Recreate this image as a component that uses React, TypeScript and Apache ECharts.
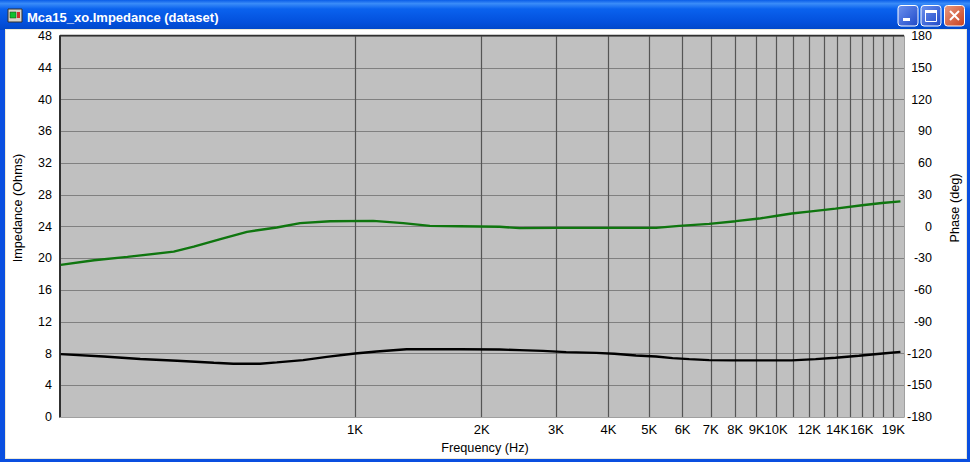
import React, { useEffect, useRef } from "react";
import * as echarts from "echarts";

const TITLE = "Mca15_xo.Impedance (dataset)";
const X_MIN = 199.2;
const X_MAX = 20140;
const X_TICKS = [1000, 2000, 3000, 4000, 5000, 6000, 7000, 8000, 9000, 10000, 11000, 12000, 13000, 14000, 15000, 16000, 17000, 18000, 19000];
const X_LABELLED = [1000, 2000, 3000, 4000, 5000, 6000, 7000, 8000, 9000, 10000, 12000, 14000, 16000, 19000];

const impedanceFreq = [200, 253, 309, 378, 462, 514, 595, 652, 753, 857, 1000, 1126, 1326, 1774, 2206, 2460, 2794, 3174, 3739, 4132, 4650, 5188, 5680, 6220, 6937, 7880, 10900, 12420, 13850, 15730, 16900, 18200, 19750];
const impedanceOhms = [7.92, 7.63, 7.3, 7.08, 6.83, 6.71, 6.71, 6.88, 7.17, 7.58, 8.0, 8.25, 8.54, 8.54, 8.5, 8.42, 8.33, 8.17, 8.08, 7.96, 7.75, 7.62, 7.42, 7.29, 7.17, 7.13, 7.13, 7.29, 7.46, 7.71, 7.87, 8.04, 8.21];

const phaseFreq = [200, 240, 288, 371, 414, 479, 554, 652, 741, 873, 1105, 1302, 1506, 1774, 2206, 2460, 3006, 3985, 5188, 5891, 6937, 8026, 9120, 9980, 10900, 11970, 13850, 16010, 17860, 19750];
// Read against the left scale, as the curve sits on the picture's gridlines.
const phaseOhmsScale = [19.17, 19.75, 20.17, 20.83, 21.46, 22.42, 23.33, 23.87, 24.42, 24.67, 24.71, 24.42, 24.08, 24.04, 23.96, 23.8, 23.83, 23.83, 23.83, 24.08, 24.33, 24.67, 25, 25.33, 25.63, 25.88, 26.25, 26.67, 26.96, 27.17];
const phaseDeg = phaseOhmsScale.map((v) => (v - 24) * 7.5);

const FONT = '"Liberation Sans", Arial, sans-serif';

const pairs = (xs: number[], ys: number[]) => xs.map((x, i) => [x, ys[i]]);

const chrome: any[] = [
  { type: "rect", z: -5, shape: { x: 0, y: 0, width: 970, height: 462 }, style: { fill: "#0a4fe0" } },
  {
    type: "rect", z: -4, shape: { x: 0, y: 0, width: 970, height: 30 },
    style: {
      fill: new echarts.graphic.LinearGradient(0, 0, 0, 1, [
        { offset: 0, color: "#0a5de8" },
        { offset: 0.12, color: "#3a8cf8" },
        { offset: 0.3, color: "#0a62ee" },
        { offset: 0.75, color: "#0350dc" },
        { offset: 1, color: "#0047c8" },
      ]),
    },
  },
  { type: "rect", z: -3, shape: { x: 5, y: 29, width: 962, height: 430 }, style: { fill: "#ece9d8" } },
  { type: "rect", z: -2, shape: { x: 6, y: 30, width: 960, height: 428 }, style: { fill: "#ffffff" } },
  { type: "rect", z: -1, shape: { x: 8, y: 9, width: 14, height: 13 }, style: { fill: "#d8d4c8", stroke: "#303030", lineWidth: 1 } },
  { type: "rect", z: -1, shape: { x: 10, y: 12, width: 6, height: 6 }, style: { fill: "#10c030", stroke: "#104010", lineWidth: 0.5 } },
  { type: "rect", z: -1, shape: { x: 17, y: 12, width: 3, height: 6 }, style: { fill: "#d03030" } },
  { type: "text", z: 5, x: 27, y: 17, style: { text: TITLE, fill: "#ffffff", font: 'bold 13px "Liberation Sans", Arial, sans-serif', textVerticalAlign: "middle" } },
  ...[898, 921].map((x) => ({
    type: "rect", z: 5, shape: { x, y: 5.5, width: 20, height: 20.5, r: 3 },
    style: {
      stroke: "#ffffff", lineWidth: 1,
      fill: new echarts.graphic.LinearGradient(0, 0, 1, 1, [
        { offset: 0, color: "#6d92ee" }, { offset: 1, color: "#1f49c8" },
      ]),
    },
  })),
  {
    type: "rect", z: 5, shape: { x: 944.5, y: 5.5, width: 20, height: 20.5, r: 3 },
    style: {
      stroke: "#ffffff", lineWidth: 1,
      fill: new echarts.graphic.LinearGradient(0, 0, 1, 1, [
        { offset: 0, color: "#e89a80" }, { offset: 1, color: "#c8401c" },
      ]),
    },
  },
  { type: "rect", z: 6, shape: { x: 903, y: 18, width: 7, height: 3 }, style: { fill: "#ffffff" } },
  { type: "rect", z: 6, shape: { x: 925.5, y: 10.5, width: 11, height: 11 }, style: { fill: "none", stroke: "#ffffff", lineWidth: 1 } },
  { type: "rect", z: 6, shape: { x: 925, y: 10, width: 12, height: 3 }, style: { fill: "#ffffff" } },
  { type: "line", z: 6, shape: { x1: 950, y1: 11, x2: 959, y2: 20 }, style: { stroke: "#ffffff", lineWidth: 2 } },
  { type: "line", z: 6, shape: { x1: 959, y1: 11, x2: 950, y2: 20 }, style: { stroke: "#ffffff", lineWidth: 2 } },
  { type: "line", z: 20, shape: { x1: 60, y1: 35.5, x2: 904, y2: 35.5 }, style: { stroke: "#303030", lineWidth: 1.5 } },
];

export default function App() {
  const ref = useRef<HTMLDivElement>(null);
  useEffect(() => {
    const chart = echarts.init(ref.current!, null, { renderer: "svg" });
    const yLabel = { color: "#000", fontFamily: FONT, fontSize: 12.5 };
    const nameStyle = { color: "#000", fontFamily: FONT, fontSize: 12.7 };
    chart.setOption({
      animation: false,
      backgroundColor: "#ffffff",
      textStyle: { fontFamily: FONT },
      graphic: chrome,
      grid: { left: 60, right: 66, top: 36, bottom: 45, show: true, backgroundColor: "#c0c0c0", borderWidth: 0, containLabel: false, outerBoundsMode: "none" },
      xAxis: {
        type: "log", logBase: 10, min: X_MIN, max: X_MAX,
        name: "Frequency (Hz)", nameLocation: "middle", nameGap: 24,
        nameTextStyle: { ...nameStyle, padding: [0, 0, 0, 6] },
        axisLine: { show: true, lineStyle: { color: "#a0a0a0", width: 1 } },
        axisTick: { show: false, customValues: X_TICKS },
        minorTick: { show: false },
        minorSplitLine: { show: false },
        splitLine: { show: true, lineStyle: { color: "#555555", width: 1.2 } },
        axisLabel: {
          customValues: X_LABELLED, color: "#000", fontFamily: FONT, fontSize: 13, margin: 6,
          hideOverlap: false,
          formatter: (v: number) => `${Math.round(v / 1000)}K`,
        },
      },
      yAxis: [
        {
          type: "value", min: 0, max: 48, interval: 4,
          name: "Impedance (Ohms)", nameLocation: "middle", nameGap: 36, nameRotate: 90,
          nameTextStyle: { ...nameStyle, padding: [0, 0, 0, 37] },
          axisLine: { show: true, lineStyle: { color: "#303030", width: 2 } },
          axisTick: { show: false },
          axisLabel: { ...yLabel, margin: 8 },
          splitLine: { show: true, lineStyle: { color: "#808080", width: 1 } },
        },
        {
          type: "value", min: -180, max: 180, interval: 30, position: "right",
          name: "Phase (deg)", nameLocation: "middle", nameGap: 44, nameRotate: 90,
          nameTextStyle: { ...nameStyle, padding: [0, 0, 0, 37] },
          axisLine: { show: true, lineStyle: { color: "#a0a0a0", width: 1 } },
          axisTick: { show: false },
          axisLabel: { ...yLabel, margin: 28, align: "right" },
          splitLine: { show: false },
        },
      ],
      series: [
        {
          name: "Impedance", type: "line", yAxisIndex: 0, showSymbol: false, smooth: false,
          data: pairs(impedanceFreq, impedanceOhms),
          lineStyle: { color: "#000000", width: 2.4 }, z: 5,
        },
        {
          name: "Phase", type: "line", yAxisIndex: 1, showSymbol: false, smooth: false,
          data: pairs(phaseFreq, phaseDeg),
          lineStyle: { color: "#0f760f", width: 2.4 }, z: 5,
        },
      ],
    });
    return () => chart.dispose();
  }, []);
  return <div ref={ref} style={{ position: "fixed", left: 0, top: 0, width: 970, height: 462 }} />;
}
